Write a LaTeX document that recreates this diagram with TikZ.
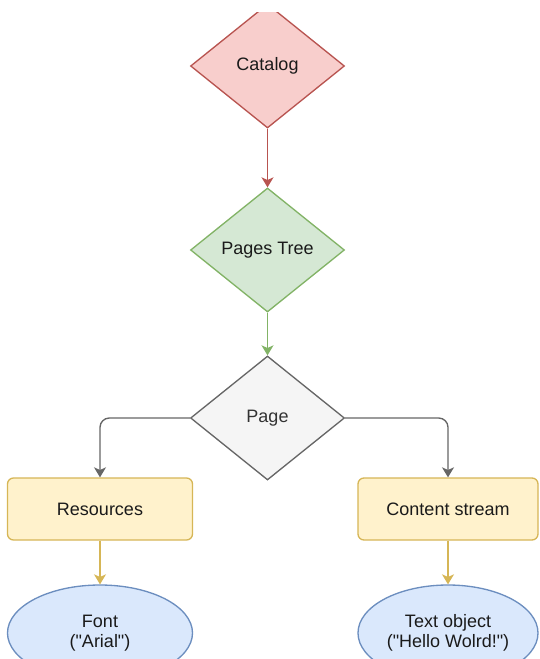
\documentclass[tikz,border=0pt]{standalone}
\usepackage{fontspec}
\setmainfont{Liberation Sans}
\usetikzlibrary{shapes.geometric,arrows.meta}

\definecolor{redfill}{HTML}{F8CECC}
\definecolor{redline}{HTML}{B85450}
\definecolor{greenfill}{HTML}{D5E8D4}
\definecolor{greenline}{HTML}{82B366}
\definecolor{grayfill}{HTML}{F5F5F5}
\definecolor{grayline}{HTML}{666666}
\definecolor{yellowfill}{HTML}{FFF2CC}
\definecolor{yellowline}{HTML}{D6B656}
\definecolor{bluefill}{HTML}{DAE8FC}
\definecolor{blueline}{HTML}{6C8EBF}
\definecolor{labeltext}{HTML}{1A1A1A}
\definecolor{pagetext}{HTML}{333333}

\tikzset{
  lbl/.style={font=\fontsize{13.5}{15}\selectfont, text=labeltext, align=center},
  decision/.style={lbl, diamond, inner sep=0pt, line width=1pt,
    minimum width=115.5pt, minimum height=93pt},
  stage/.style={lbl, rectangle, rounded corners=4.5pt, line width=1pt,
    draw=yellowline, fill=yellowfill, minimum height=46.5pt},
  item/.style={lbl, ellipse, inner sep=0pt, line width=1pt,
    draw=blueline, fill=bluefill, minimum height=72pt},
  link/.style={line width=1pt, -{Stealth[length=7.5pt,width=9pt,inset=2pt]}},
}

\begin{document}
\begin{tikzpicture}[x=0.75pt, y=-0.75pt]
  \useasboundingbox (0,0) rectangle (539,659);
  \clip (0,13) rectangle (539,659);

  % object hierarchy
  \node[decision, draw=redline, fill=redfill] (catalog) at (267.5,66) {Catalog};
  \node[decision, draw=greenline, fill=greenfill] (pages) at (267.5,250) {Pages Tree};
  \node[decision, draw=grayline, fill=grayfill, text=pagetext] (page) at (267.5,418) {Page};

  \node[stage, minimum width=138.75pt] (res) at (100,509) {Resources};
  \node[stage, minimum width=135pt] (cs) at (448,509) {Content stream};

  \node[item, minimum width=138.75pt] (font) at (100,633)
    {Font\\(\textquotedbl Arial\textquotedbl)};
  \node[item, minimum width=135pt] (text) at (448,633)
    {Text object\\(\textquotedbl Hello Wolrd!\textquotedbl)};

  % connectors
  \draw[link, redline] (catalog.south) -- (pages.north);
  \draw[link, greenline] (pages.south) -- (page.north);
  \draw[link, grayline, rounded corners=7pt] (page.west) -| (res.north);
  \draw[link, grayline, rounded corners=7pt] (page.east) -| (cs.north);
  \draw[link, yellowline] (res.south) -- (font.north);
  \draw[link, yellowline] (cs.south) -- (text.north);
\end{tikzpicture}
\end{document}
